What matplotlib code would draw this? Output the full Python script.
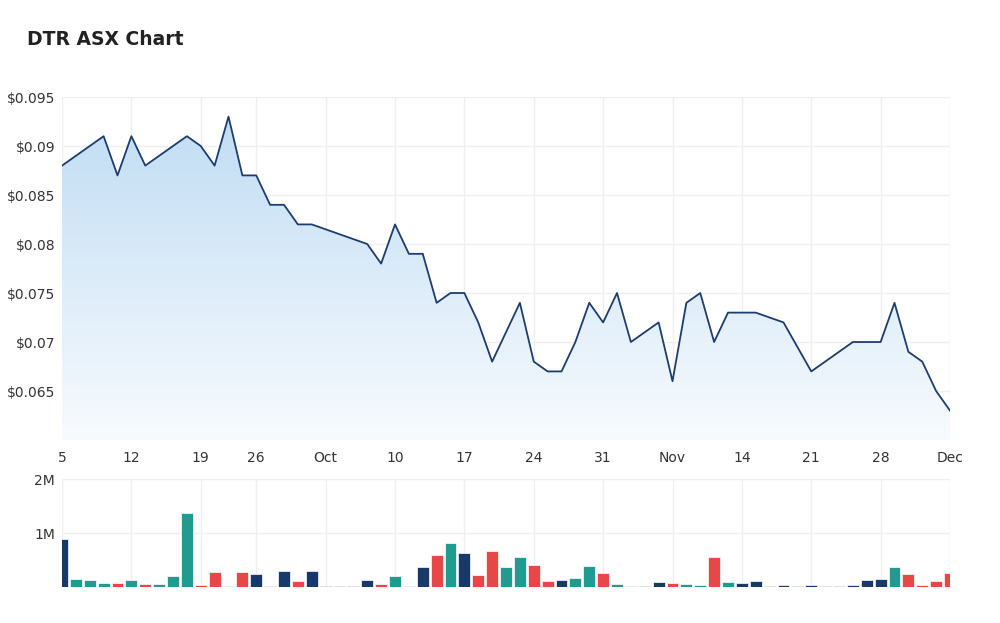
import matplotlib
matplotlib.use("Agg")
import matplotlib.pyplot as plt
import numpy as np
import pandas as pd
from matplotlib.colors import LinearSegmentedColormap
from matplotlib.patches import Polygon

# trading days Sep 5 - Dec 5 2022 (ASX closed 22 Sep)
days = [d for d in pd.bdate_range("2022-09-05", "2022-12-05") if d != pd.Timestamp("2022-09-22")]

# closing price, None = no trade that day
price = [0.088, 0.089, 0.090, 0.091, 0.087, 0.091, 0.088, 0.089, 0.090, 0.091,
         0.090, 0.088, 0.093, 0.087, 0.087, 0.084, 0.084, 0.082, 0.082, None,
         None, None, 0.080, 0.078, 0.082, 0.079, 0.079, 0.074, 0.075, 0.075,
         0.072, 0.068, 0.071, 0.074, 0.068, 0.067, 0.067, 0.070, 0.074, 0.072,
         0.075, 0.070, None, 0.072, 0.066, 0.074, 0.075, 0.070, 0.073, 0.073,
         0.073, None, 0.072, None, 0.067, None, None, 0.070, 0.070, 0.070,
         0.074, 0.069, 0.068, 0.065, 0.063]

# volume in millions of shares
volume = [0.89, 0.16, 0.14, 0.08, 0.08, 0.14, 0.06, 0.06, 0.20, 1.38,
          0.04, 0.28, 0.02, 0.28, 0.24, 0.02, 0.30, 0.12, 0.30, 0.02,
          0.02, 0.02, 0.14, 0.07, 0.20, 0.02, 0.38, 0.60, 0.82, 0.64,
          0.22, 0.68, 0.38, 0.56, 0.42, 0.12, 0.14, 0.17, 0.40, 0.26,
          0.06, 0.02, 0.02, 0.10, 0.08, 0.06, 0.04, 0.56, 0.10, 0.08,
          0.12, 0.02, 0.05, 0.02, 0.05, 0.02, 0.02, 0.04, 0.14, 0.16,
          0.38, 0.24, 0.05, 0.12, 0.26]

# u = up, d = down, n = unchanged
direction = ["n", "u", "u", "u", "d", "u", "d", "u", "u", "u",
             "d", "d", "u", "d", "n", "d", "n", "d", "n", "n",
             "n", "n", "n", "d", "u", "d", "n", "d", "u", "n",
             "d", "d", "u", "u", "d", "d", "n", "u", "u", "d",
             "u", "d", "n", "n", "d", "u", "u", "d", "u", "n",
             "n", "n", "n", "n", "n", "n", "n", "n", "n", "n",
             "u", "d", "d", "d", "d"]

tick_dates = ["2022-09-05", "2022-09-12", "2022-09-19", "2022-09-26", "2022-10-03",
              "2022-10-10", "2022-10-17", "2022-10-24", "2022-10-31", "2022-11-07",
              "2022-11-14", "2022-11-21", "2022-11-28", "2022-12-05"]
tick_labels = ["5", "12", "19", "26", "Oct", "10", "17", "24", "31", "Nov",
               "14", "21", "28", "Dec"]

price_ticks = [0.065, 0.07, 0.075, 0.08, 0.085, 0.09, 0.095]
price_tick_labels = ["$0.065", "$0.07", "$0.075", "$0.08", "$0.085", "$0.09", "$0.095"]

colors = {"u": "#219a8f", "d": "#e84747", "n": "#173a6b"}
grid_c = "#efefef"
text_c = "#333333"

x = np.arange(len(days))
day_index = {d: i for i, d in enumerate(days)}
tick_pos = [day_index[pd.Timestamp(t)] for t in tick_dates]

fig = plt.figure(figsize=(10, 6.23), dpi=100)
ax = fig.add_axes([0.062, 0.2937, 0.888, 0.5506])
axv = fig.add_axes([0.062, 0.0573, 0.888, 0.1734])

fig.text(0.027, 0.936, "DTR ASX Chart", fontsize=13.5, fontweight="bold",
         color="#222222", va="center", ha="left")

# price panel
px = np.array([i for i, p in enumerate(price) if p is not None])
py = np.array([p for p in price if p is not None])
ymin, ymax = 0.06, 0.095
ax.set_xlim(0, len(days) - 1)
ax.set_ylim(ymin, ymax)

cmap = LinearSegmentedColormap.from_list("fade", ["#f8fbfe", "#bddbf3"])
grad = np.linspace(0, 1, 256).reshape(-1, 1)
img = ax.imshow(grad, cmap=cmap, origin="lower", aspect="auto",
                extent=[0, len(days) - 1, ymin, ymax], zorder=1)
verts = list(zip(px, py)) + [(px[-1], ymin), (px[0], ymin)]
clip = Polygon(verts, closed=True, facecolor="none", edgecolor="none")
ax.add_patch(clip)
img.set_clip_path(clip)
ax.plot(px, py, color="#1c3d6e", lw=1.3, zorder=3)

ax.set_xticks(tick_pos)
ax.set_xticklabels(tick_labels)
ax.set_yticks([ymin] + price_ticks)
ax.set_yticklabels([""] + price_tick_labels)

# volume panel
bar_colors = [colors[c] for c in direction]
axv.bar(x, volume, width=0.86, color=bar_colors, edgecolor="white", linewidth=0.5, zorder=3)
axv.set_xlim(0, len(days) - 1)
axv.set_ylim(0, 2)
axv.set_xticks(tick_pos)
axv.set_xticklabels([])
axv.set_yticks([0, 1, 2])
axv.set_yticklabels(["", "1M", "2M"])

for a in (ax, axv):
    for s in a.spines.values():
        s.set_visible(False)
    a.grid(True, color=grid_c, lw=1, zorder=0)
    a.set_axisbelow(True)
    a.tick_params(length=0, colors=text_c, labelsize=10)
ax.tick_params(axis="x", pad=8)
ax.tick_params(axis="y", pad=5)
axv.tick_params(axis="y", pad=5)

fig.savefig("out.png", dpi=100, facecolor="white")
